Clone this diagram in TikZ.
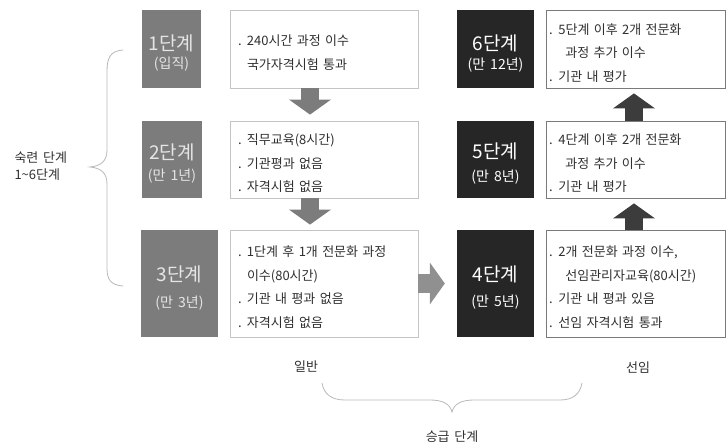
\documentclass[tikz,border=0pt]{standalone}
\usepackage{fontspec}
\setmainfont{Noto Sans CJK KR}[WordSpace=1.6]
\usetikzlibrary{arrows.meta}

\definecolor{stagegray}{HTML}{7C7C7C}
\definecolor{stagedark}{HTML}{262626}
\definecolor{lightline}{HTML}{C4C4C4}
\definecolor{darkline}{HTML}{7A7A7A}
\definecolor{textgray}{HTML}{303030}
\definecolor{bracegray}{HTML}{B8B8B8}

\newcommand{\stagebig}{\fontsize{19}{19}\selectfont\rule{0pt}{24pt}}
\newcommand{\itemdot}[1][9pt]{\makebox[#1][l]{.}}
\newcommand{\itemgap}[1][9pt]{\hspace*{#1}}

\tikzset{
	stage/.style={fill=stagegray, text=white!90!black, inner sep=0pt, align=center, font=\fontsize{14}{16}\selectfont},
	senior/.style={stage, fill=stagedark, text=white},
	info/.style={draw=lightline, line width=0.8pt, fill=white, inner xsep=8pt, inner ysep=0pt, align=left, text=textgray, font=\fontsize{13}{23.5}\selectfont, execute at begin node={\rule{0pt}{18.5pt}}},
	seniorinfo/.style={info, draw=darkline, inner xsep=3pt, text width=173pt},
	note/.style={text=textgray, font=\fontsize{13}{17}\selectfont},
	downarrow/.style={line width=18pt, draw=stagegray, -{Triangle[width=42pt,length=15pt,line width=0pt]}},
	uparrow/.style={downarrow, draw=stagedark!90!white},
	brace/.style={draw=bracegray, line width=0.8pt}
}

\begin{document}
\begin{tikzpicture}[x=1pt,y=-1pt]
	\useasboundingbox (0,0) rectangle (726,444);

	% general track
	\node[stage, minimum width=59pt, minimum height=78pt] (s1) at (171.5,49) {{\stagebig 1단계}\\[2pt](입직)};
	\node[stage, minimum width=60pt, minimum height=77pt] (s2) at (172,159.5) {{\stagebig 2단계}\\[5pt](만 1년)};
	\node[stage, minimum width=77pt, minimum height=107pt] (s3) at (179.5,283.5) {{\stagebig 3단계}\\[10pt](만 3년)};

	\node[info, text width=172pt, minimum height=78pt] (g1) at (324,49) {\itemdot 240시간 과정 이수\\\itemgap 국가자격시험 통과};
	\node[info, text width=172pt, minimum height=77pt] (g2) at (324,159.5) {\itemdot 직무교육(8시간)\\\itemdot 기관평과 없음\\\itemdot 자격시험 없음};
	\node[info, text width=172pt, minimum height=107pt] (g3) at (324,283.5) {\itemdot 1단계 후 1개 전문화 과정\\\itemgap 이수(80시간)\\\itemdot 기관 내 평과 없음\\\itemdot 자격시험 없음};

	% senior track
	\node[senior, minimum width=77pt, minimum height=107pt] (s4) at (495.5,283.5) {{\stagebig 4단계}\\[9pt](만 5년)};
	\node[senior, minimum width=77pt, minimum height=77pt] (s5) at (495.5,159.5) {{\stagebig 5단계}\\[7pt](만 8년)};
	\node[senior, minimum width=77pt, minimum height=78pt] (s6) at (495.5,49) {{\stagebig 6단계}\\[3pt](만 12년)};

	\node[seniorinfo, minimum height=107pt] (r4) at (635.5,283.5) {\itemdot[5pt] 2개 전문화 과정 이수,\\\itemgap[12pt] 선임관리자교육(80시간)\\\itemdot[5pt] 기관 내 평과 있음\\\itemdot[5pt] 선임 자격시험 통과};
	\node[seniorinfo, minimum height=77pt] (r5) at (635.5,159.5) {\itemdot[5pt] 4단계 이후 2개 전문화\\\itemgap[12pt] 과정 추가 이수\\\itemdot[5pt] 기관 내 평가};
	\node[seniorinfo, minimum height=78pt] (r6) at (635.5,49) {\itemdot[5pt] 5단계 이후 2개 전문화\\\itemgap[12pt] 과정 추가 이수\\\itemdot[5pt] 기관 내 평가};

	% arrows
	\draw[downarrow, shorten >=6pt] ([xshift=-14pt]g1.south) -- ([xshift=-14pt]g2.north);
	\draw[downarrow, shorten >=5pt] ([xshift=-14pt]g2.south) -- ([xshift=-14pt]g3.north);
	\draw[downarrow, line width=19pt, draw=stagegray!85!white, shorten >=12pt] (g3.east) -- (s4.west);
	\draw[uparrow, shorten >=5pt] ([xshift=-1.5pt]r4.north) -- ([xshift=-1.5pt]r5.south);
	\draw[uparrow, shorten >=5pt] ([xshift=-1.5pt]r5.north) -- ([xshift=-1.5pt]r6.south);

	% braces
	\draw[brace] (123,50) .. controls (110,51) and (107,58) .. (107,72) -- (107,150) .. controls (107,161) and (101,166) .. (90,167) .. controls (101,168) and (107,173) .. (107,184) -- (107,268) .. controls (107,280) and (111,285) .. (123,286);
	\draw[brace] (322,383) .. controls (324,394) and (331,400) .. (345,400) -- (430,400) .. controls (443,400) and (450,404) .. (452,412) .. controls (454,404) and (461,400) .. (474,400) -- (560,400) .. controls (573,400) and (580,394) .. (582,383);

	\node[note, align=left, anchor=west] (skill) at (11,166) {숙련 단계\\1\textasciitilde6단계};
	\node[note] (general) at (306,367) {일반};
	\node[note] (seniorlabel) at (638,368) {선임};
	\node[note] (promotion) at (452,437) {승급 단계};
\end{tikzpicture}
\end{document}
